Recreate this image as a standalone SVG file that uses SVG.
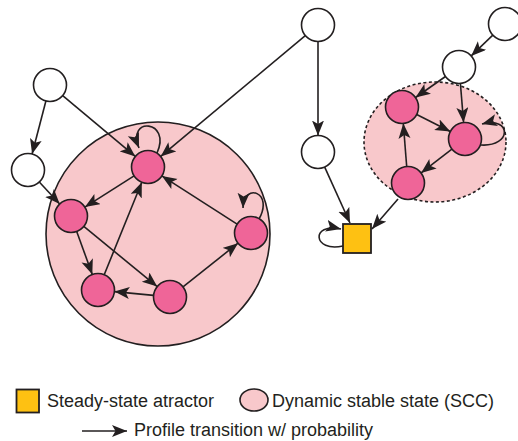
<svg xmlns="http://www.w3.org/2000/svg" width="518" height="441" viewBox="0 0 518 441">
  <style>
    .scc { fill: #f8c8cb; stroke: #231f20; stroke-width: 1.6; }
    .scc-dash { fill: #f8c8cb; stroke: #231f20; stroke-width: 1.6; stroke-dasharray: 3 2.5; }
    .state { fill: #ffffff; stroke: #231f20; stroke-width: 1.6; }
    .hot { fill: #ef6598; stroke: #231f20; stroke-width: 1.6; }
    .attr { fill: #fec112; stroke: #231f20; stroke-width: 1.8; }
    .edge { fill: none; stroke: #231f20; stroke-width: 1.6; marker-end: url(#arrow); }
    .label { font-family: "Liberation Sans", Arial, sans-serif; font-size: 18px; fill: #231f20; }
  </style>
  <defs>
    <marker id="arrow" markerUnits="userSpaceOnUse" markerWidth="16" markerHeight="13" refX="15" refY="6" orient="auto">
      <path d="M0,0 L15,6 L0,12 L3.5,6 Z" fill="#231f20"/>
    </marker>
  </defs>

  <!-- strongly connected components -->
  <g id="scc-left">
    <circle class="scc" cx="158" cy="234" r="112"/>
  </g>
  <g id="scc-right">
    <ellipse class="scc-dash" cx="435" cy="142" rx="71" ry="60"/>
  </g>

  <!-- transitions -->
  <g id="connectors">
    <path class="edge" d="M62.7,95.6 L135.3,156.4"/>
    <path class="edge" d="M45.9,101 L32.1,154"/>
    <path class="edge" d="M39.3,182 L59.7,204"/>
    <path class="edge" d="M305.3,35.6 L160.7,156.4"/>
    <path class="edge" d="M134.1,175.9 L84.9,207.1"/>
    <path class="edge" d="M76.7,231.5 L92.3,274.5"/>
    <path class="edge" d="M83.8,226.4 L157.2,286.6"/>
    <path class="edge" d="M153.6,295.4 L114.4,291.6"/>
    <path class="edge" d="M104.2,274.7 L141.8,182.3"/>
    <path class="edge" d="M183,286.8 L238,243.2"/>
    <path class="edge" d="M237.1,224.1 L161.9,175.9"/>
    <path class="edge" d="M157,153 C172,120 126,116 139,148"/>
    <path class="edge" d="M259,219 C274,192 244,182 243,208"/>
    <path class="edge" d="M318,41.5 L318,135.5"/>
    <path class="edge" d="M324.7,167.1 L350,223"/>
    <path class="edge" d="M398,199 L372,229"/>
    <path class="edge" d="M343,246 C313,253 310,222 341,229"/>
    <path class="edge" d="M492.8,35.1 L471.2,55.9"/>
    <path class="edge" d="M445.5,76.5 L415.5,97.5"/>
    <path class="edge" d="M460.4,83.5 L463.6,122.5"/>
    <path class="edge" d="M416.7,114.5 L450.3,131.5"/>
    <path class="edge" d="M451.9,149.1 L421.1,172.9"/>
    <path class="edge" d="M406.7,166.5 L403.3,123.5"/>
    <path class="edge" d="M481,145 C512,147 512,116 482,124"/>
  </g>

  <!-- transient states -->
  <g id="w1"><circle class="state" cx="50" cy="85" r="16.5"/></g>
  <g id="w2"><circle class="state" cx="28" cy="170" r="16.5"/></g>
  <g id="wt"><circle class="state" cx="318" cy="25" r="16.5"/></g>
  <g id="wm"><circle class="state" cx="318" cy="152" r="16.5"/></g>
  <g id="wr"><circle class="state" cx="505" cy="24" r="16.5"/></g>
  <g id="wn"><circle class="state" cx="459" cy="67" r="16.5"/></g>

  <!-- SCC member states -->
  <g id="a"><circle class="hot" cx="148" cy="167" r="16.5"/></g>
  <g id="b"><circle class="hot" cx="71" cy="216" r="16.5"/></g>
  <g id="c"><circle class="hot" cx="98" cy="290" r="16.5"/></g>
  <g id="d"><circle class="hot" cx="170" cy="297" r="16.5"/></g>
  <g id="e"><circle class="hot" cx="251" cy="233" r="16.5"/></g>
  <g id="p1"><circle class="hot" cx="402" cy="107" r="16.5"/></g>
  <g id="p2"><circle class="hot" cx="465" cy="139" r="16.5"/></g>
  <g id="p3"><circle class="hot" cx="408" cy="183" r="16.5"/></g>

  <!-- steady-state attractor -->
  <g id="attractor"><rect class="attr" x="343" y="224" width="28" height="29"/></g>

  <!-- legend -->
  <g id="legend">
    <rect class="attr" x="16.5" y="389.5" width="22.5" height="23"/>
    <text class="label" x="47" y="407">Steady-state atractor</text>
    <ellipse class="scc" cx="254" cy="400" rx="14" ry="11"/>
    <text class="label" x="272" y="407">Dynamic stable state (SCC)</text>
    <path class="edge" d="M82,431 L127,431"/>
    <text class="label" x="134" y="436">Profile transition w/ probability</text>
  </g>
</svg>
